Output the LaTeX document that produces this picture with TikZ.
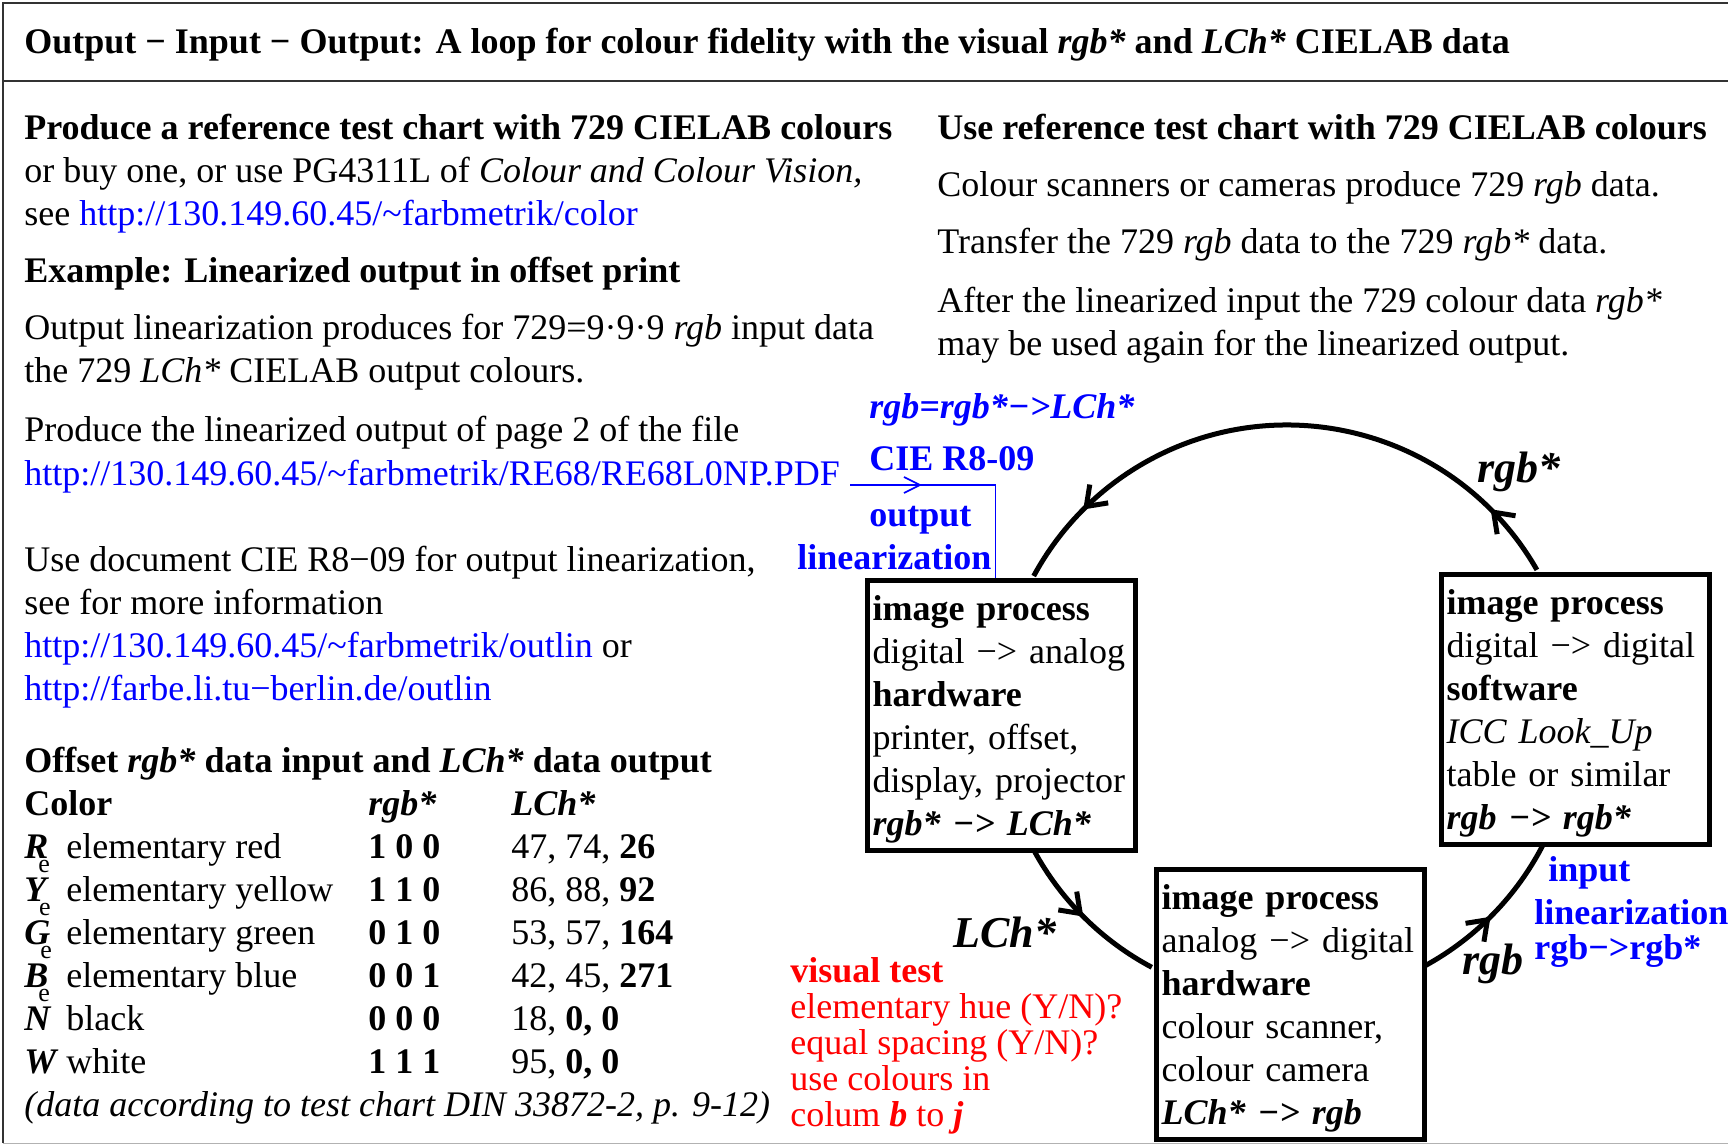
\documentclass[tikz,border=0pt]{standalone}
\usepackage{fontspec}
\setmainfont{Liberation Serif}
\usetikzlibrary{arrows.meta, positioning, decorations.markings, calc}
\definecolor{lnk}{RGB}{0,0,255}
\definecolor{tst}{RGB}{255,0,0}
\newcommand{\bi}[1]{\textbf{\textit{#1}}}
\newcommand{\tld}{\textasciitilde}
\newcommand{\elem}[1]{\bi{#1}\kern-5pt\raisebox{-7pt}{\fontsize{13}{13}\selectfont e}}
\newcommand{\trow}[4]{\makebox[21pt][l]{#1}\makebox[151pt][l]{#2}\makebox[71.5pt][l]{#3}#4}

\begin{document}
\begin{tikzpicture}[x=0.5pt, y=-0.5pt, font=\fontsize{18}{21.5}\selectfont,
  txt/.style={anchor=base west, inner sep=0pt, align=left},
  hint/.style={txt, text=lnk, font=\fontsize{18}{21.5}\selectfont\bfseries},
  proc/.style={draw, fill=white, line width=2.5pt, anchor=north west, text width=129pt, inner xsep=2.5pt, inner ysep=0pt, minimum height=135pt, align=left},
  ring/.style={line width=2.5pt},
  ahead/.style={postaction={decorate, decoration={markings, mark=at position #1 with {\arrow{Straight Barb[length=9pt, width=13pt]}}}}},
  bhead/.style={postaction={decorate, decoration={markings, mark=at position #1 with {\arrow{Straight Barb[length=8pt, width=8pt]}}}}},
  lbl/.style={anchor=base west, inner sep=0pt, font=\fontsize{22}{22}\selectfont\bfseries\itshape},
  frame/.style={line width=1pt, black!80}]
\useasboundingbox (0,0) rectangle (1728,1144);
\draw[frame] (3,1143) -- (3,3) -- (1728,3);
\draw[frame] (3,81) -- (1728,81);
\draw[black!30] (3,1143) -- (1728,1143);

\node[txt, font=\fontsize{18}{21.5}\selectfont\bfseries] (ttl) at (24,54) {Output − Input − Output: A loop for colour fidelity with the visual \textit{rgb*} and \textit{LCh*} CIELAB data};

\node[txt] (chart) at (24,226) {\textbf{Produce a reference test chart with 729 CIELAB colours}\\or buy one, or use PG4311L of \textit{Colour and Colour Vision,}\\see {\color{lnk}http://130.149.60.45/\tld farbmetrik/color}};
\node[txt] (expl) at (24,283) {\textbf{Example: Linearized output in offset print}};
\node[txt] (linout) at (24,383) {Output linearization produces for 729=9·9·9 \textit{rgb} input data\\the 729 \textit{LCh*} CIELAB output colours.};
\node[txt] (prod) at (24,441) {Produce the linearized output of page 2 of the file};
\node[txt, text=lnk] (pdf) at (24,485) {http://130.149.60.45/\tld farbmetrik/RE68/RE68L0NP.PDF};
\node[txt] (cie) at (24,700) {Use document CIE R8−09 for output linearization,\\see for more information\\{\color{lnk}http://130.149.60.45/\tld farbmetrik/outlin} or\\{\color{lnk}http://farbe.li.tu−berlin.de/outlin}};
\node[txt] (tab) at (24,1116) {\textbf{Offset \textit{rgb*} data input and \textit{LCh*} data output}\\
\makebox[172pt][l]{\textbf{Color}}\makebox[71.5pt][l]{\bi{rgb*}}\bi{LCh*}\\
\trow{\elem{R}}{elementary red}{\textbf{1 0 0}}{47, 74, \textbf{26}}\\
\trow{\elem{Y}}{elementary yellow}{\textbf{1 1 0}}{86, 88, \textbf{92}}\\
\trow{\elem{G}}{elementary green}{\textbf{0 1 0}}{53, 57, \textbf{164}}\\
\trow{\elem{B}}{elementary blue}{\textbf{0 0 1}}{42, 45, \textbf{271}}\\
\trow{\bi{N}}{black}{\textbf{0 0 0}}{18, \textbf{0, 0}}\\
\trow{\bi{W}}{white}{\textbf{1 1 1}}{95, \textbf{0, 0}}\\
\textit{(data according to test chart DIN 33872-2, p. 9-12)}};

\node[txt] (use) at (937,140) {\textbf{Use reference test chart with 729 CIELAB colours}};
\node[txt] (scan) at (937,197) {Colour scanners or cameras produce 729 \textit{rgb} data.};
\node[txt] (trans) at (937,254) {Transfer the 729 \textit{rgb} data to the 729 \textit{rgb*} data.};
\node[txt] (after) at (937,356) {After the linearized input the 729 colour data \textit{rgb*}\\may be used again for the linearized output.};

\coordinate (ctr) at (1287,713);
\draw[ring, ahead=0.125, ahead=0.864] ($(ctr)+(29.8:144pt)$) arc[start angle=29.8, end angle=151.6, radius=144pt];
\draw[ring, ahead=0.49] ($(ctr)+(208.6:144pt)$) arc[start angle=208.6, end angle=242, radius=144pt];
\draw[ring, ahead=0.48] ($(ctr)+(298.4:144pt)$) arc[start angle=298.4, end angle=332.9, radius=144pt];

\node[proc] (outb) at (865,578) {\rule{0pt}{16.5pt}\textbf{image process}\\digital −> analog\\\textbf{hardware}\\printer, offset,\\display, projector\\\bi{rgb* −> LCh*}};
\node[proc] (inb) at (1439,572) {\rule{0pt}{16.5pt}\textbf{image process}\\digital −> digital\\\textbf{software}\\\textit{ICC Look\_Up}\\table or similar\\\bi{rgb −> rgb*}};
\node[proc] (scb) at (1154,867) {\rule{0pt}{16.5pt}\textbf{image process}\\analog −> digital\\\textbf{hardware}\\colour scanner,\\colour camera\\\bi{LCh* −> rgb}};

\node[lbl] (lrgbs) at (1477,482) {rgb*};
\node[lbl] (llch) at (953,947) {LCh*};
\node[lbl] (lrgb) at (1462,974) {rgb};

\node[hint, font=\fontsize{18}{21.5}\selectfont\bfseries\itshape] (conv) at (869,418) {rgb=rgb*−>LCh*};
\node[hint] (cier) at (869,470) {CIE R8-09};
\node[hint] (outlin) at (797,569) {\hspace*{36pt}output\\linearization};
\node[hint] (inlin) at (1534,959) {\hspace*{7pt}input\\linearization\\[-4pt]rgb−>rgb*};
\draw[lnk, line width=0.8pt, bhead=0.3] ($(pdf.base east)+(5pt,0)$) -- ($(pdf.base east -| outb.north)+(-3pt,0)$) -- ($(outb.north)+(-3pt,0)$);

\node[txt, text=tst, font=\fontsize{18}{18}\selectfont] (vis) at (790,1126) {\textbf{visual test}\\elementary hue (Y/N)?\\equal spacing (Y/N)?\\use colours in\\colum \bi{b} to \bi{j}};
\end{tikzpicture}
\end{document}
